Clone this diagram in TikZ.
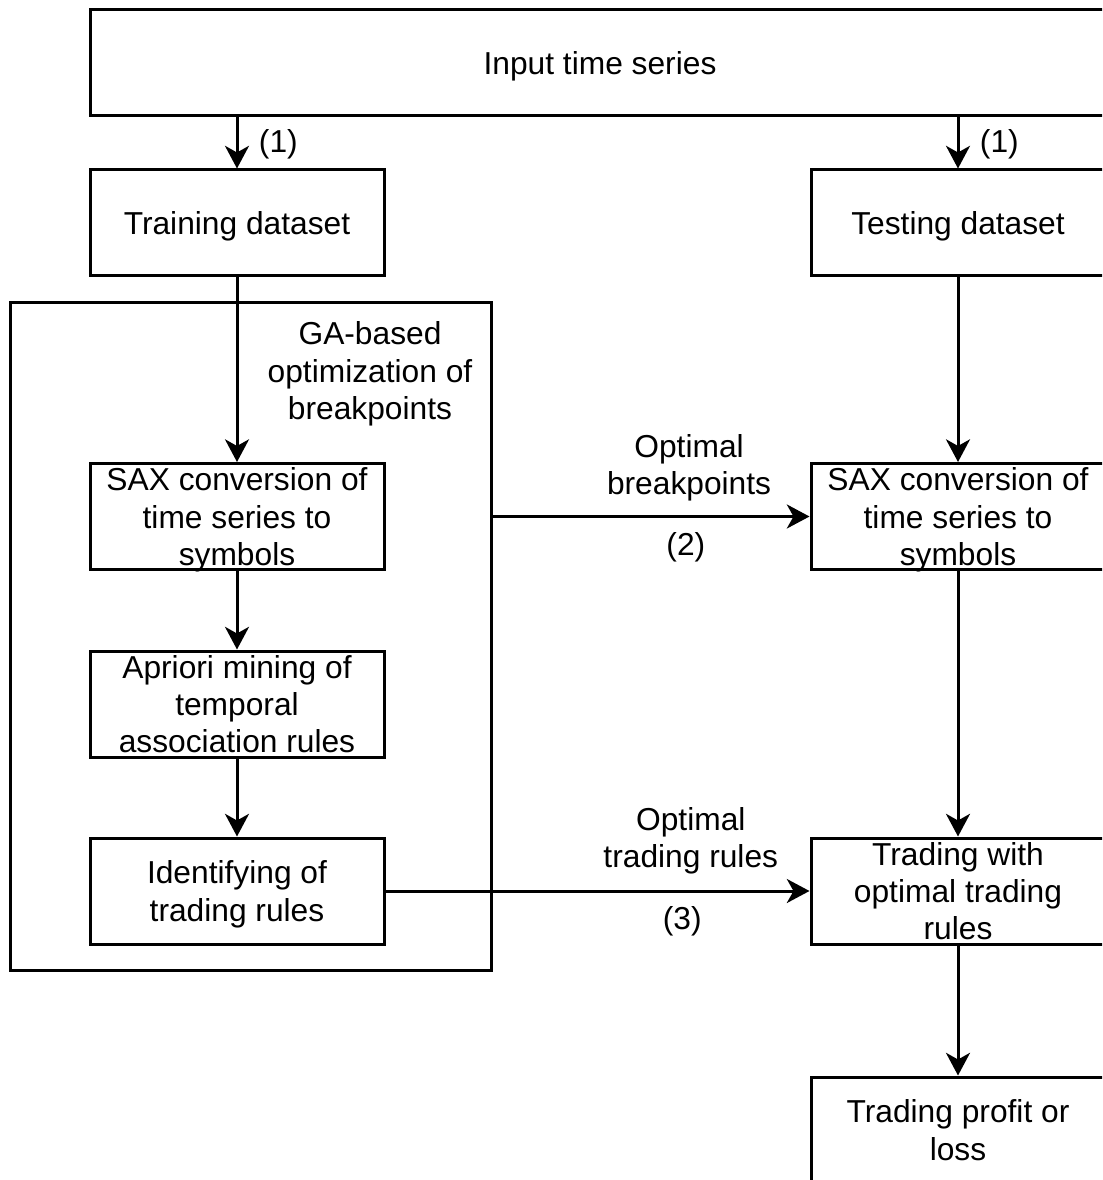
\documentclass[tikz,border=0pt]{standalone}
\usepackage{fontspec}
\setmainfont{Liberation Sans}
\usetikzlibrary{arrows.meta}

\begin{document}
\begin{tikzpicture}[x=0.75pt, y=-0.75pt, line width=2.25pt,
    every node/.style={font=\fontsize{23.8}{28}\selectfont, align=center},
    box/.style={draw, fill=white, minimum width=220.5pt, minimum height=79.5pt, inner sep=0pt, text depth=0pt},
    flow/.style={-{Stealth[length=17pt, width=18pt, inset=5pt]}}]
    \clip (0,0) rectangle (1102,1180);
    % frame of the GA loop
    \node [box, minimum width=360.75pt, minimum height=500.25pt] (ga) at (250.5,636.5) {};
    \node (galabel) at (370,374) {GA-based\\optimization of\\breakpoints};

    \node [box, minimum width=765pt] (input) at (600,63)  {Input time series};
    \node [box] (train)   at (237,223)    {Training dataset};
    \node [box] (test)    at (958,223)    {Testing dataset};
    \node [box] (saxl)    at (237,516.5)  {SAX conversion of\\time series to\\symbols};
    \node [box] (apriori) at (237,704)    {Apriori mining of\\temporal\\association rules};
    \node [box] (ident)   at (237,891)    {Identifying of\\trading rules};
    \node [box] (saxr)    at (958,516.5)  {SAX conversion of\\time series to\\symbols};
    \node [box] (trade)   at (958,891)    {Trading with\\optimal trading\\rules};
    \node [box] (profit)  at (958,1130)   {Trading profit or\\loss};

    % splitting the series
    \draw [flow] (input.south -| train.north) -- node [right=12pt, yshift=-1pt] {(1)} (train.north);
    \draw [flow] (input.south -| test.north)  -- node [right=12pt, yshift=-1pt] {(1)} (test.north);
    \foreach \a/\b in {train/saxl, saxl/apriori, apriori/ident, test/saxr, saxr/trade, trade/profit} {
        \draw [flow] (\a) -- (\b);
    }
    \draw [flow] (ga.east |- saxr.west) -- node [pos=0.62, above=7pt] {Optimal\\breakpoints}
        node [pos=0.61, below=7.5pt] {(2)} (saxr.west);
    \draw [flow] (ident.east) -- node [pos=0.72, above=8pt] {Optimal\\trading rules}
        node [pos=0.70, below=7pt] {(3)} (trade.west);
\end{tikzpicture}
\end{document}
